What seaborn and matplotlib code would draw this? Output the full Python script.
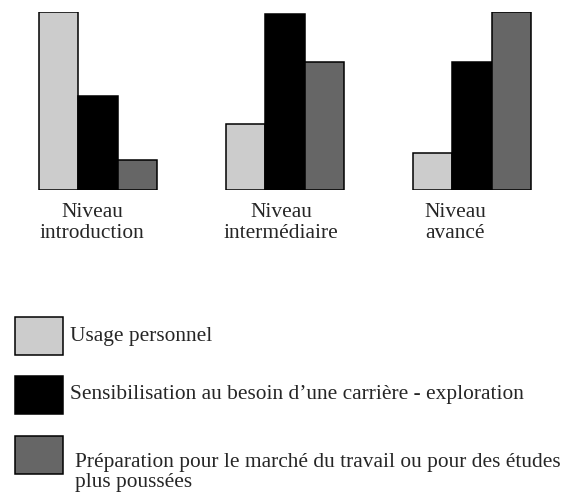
import matplotlib.pyplot as plt
import matplotlib.transforms as mtransforms
import seaborn as sns
import pandas as pd

# --- data (relative heights) ---
levels = ['Niveau\nintroduction', 'Niveau\nintermédiaire', 'Niveau\navancé']
series = ['Usage personnel',
          'Sensibilisation au besoin d\u2019une carrière - exploration',
          'Préparation pour le marché du travail ou pour des études\nplus poussées']
usage = [100, 37, 21]
sensibilisation = [53, 99, 72]
preparation = [17, 72, 100]

df = pd.DataFrame({
    'Niveau': levels * 3,
    'Objectif': [series[0]] * 3 + [series[1]] * 3 + [series[2]] * 3,
    'Valeur': usage + sensibilisation + preparation,
})

colors = ['#cccccc', '#000000', '#666666']

sns.set_theme(style='white')
plt.rcParams['font.family'] = ['Liberation Serif', 'DejaVu Serif']

fig = plt.figure(figsize=(5.66, 4.93), dpi=100)
ax = fig.add_axes([0.008, 0.6146, 0.991, 0.3611])

sns.barplot(data=df, x='Niveau', y='Valeur', hue='Objectif',
            palette=colors, width=0.63, gap=0, edgecolor='black',
            linewidth=1.1, saturation=1, ax=ax)

ax.set_xlim(-0.5, 2.5)
ax.set_ylim(0, 100)
ax.set_xlabel('')
ax.set_ylabel('')
ax.set_yticks([])
ax.tick_params(axis='x', length=0, pad=9, labelsize=15.4)
sns.despine(ax=ax, left=True, bottom=True)


def nudge(artist, dx, dy):
    # move a text by a few pixels (dx right, dy down)
    artist.set_transform(artist.get_transform() +
                         mtransforms.ScaledTranslation(dx / 100, -dy / 100,
                                                       fig.dpi_scale_trans))


# the labels in the original sit slightly left of the group centres
for lab, dx in zip(ax.get_xticklabels(), [-6, -4, -17]):
    lab.set_linespacing(1.15)
    nudge(lab, dx, 0)

sns.move_legend(ax, 'upper left', bbox_to_anchor=(15 / 566, 1 - 317 / 493),
                bbox_transform=fig.transFigure, frameon=False, title=None,
                fontsize=15.4, handlelength=2.24, handleheight=2.355,
                handletextpad=0.33, labelspacing=0.98, borderpad=0,
                borderaxespad=0)

leg = ax.get_legend()
for t, (dx, dy) in zip(leg.get_texts(), [(0, -2), (0, -3), (5, 18)]):
    t.set_linespacing(1.05)
    nudge(t, dx, dy)

plt.savefig('out.png', dpi=100)
